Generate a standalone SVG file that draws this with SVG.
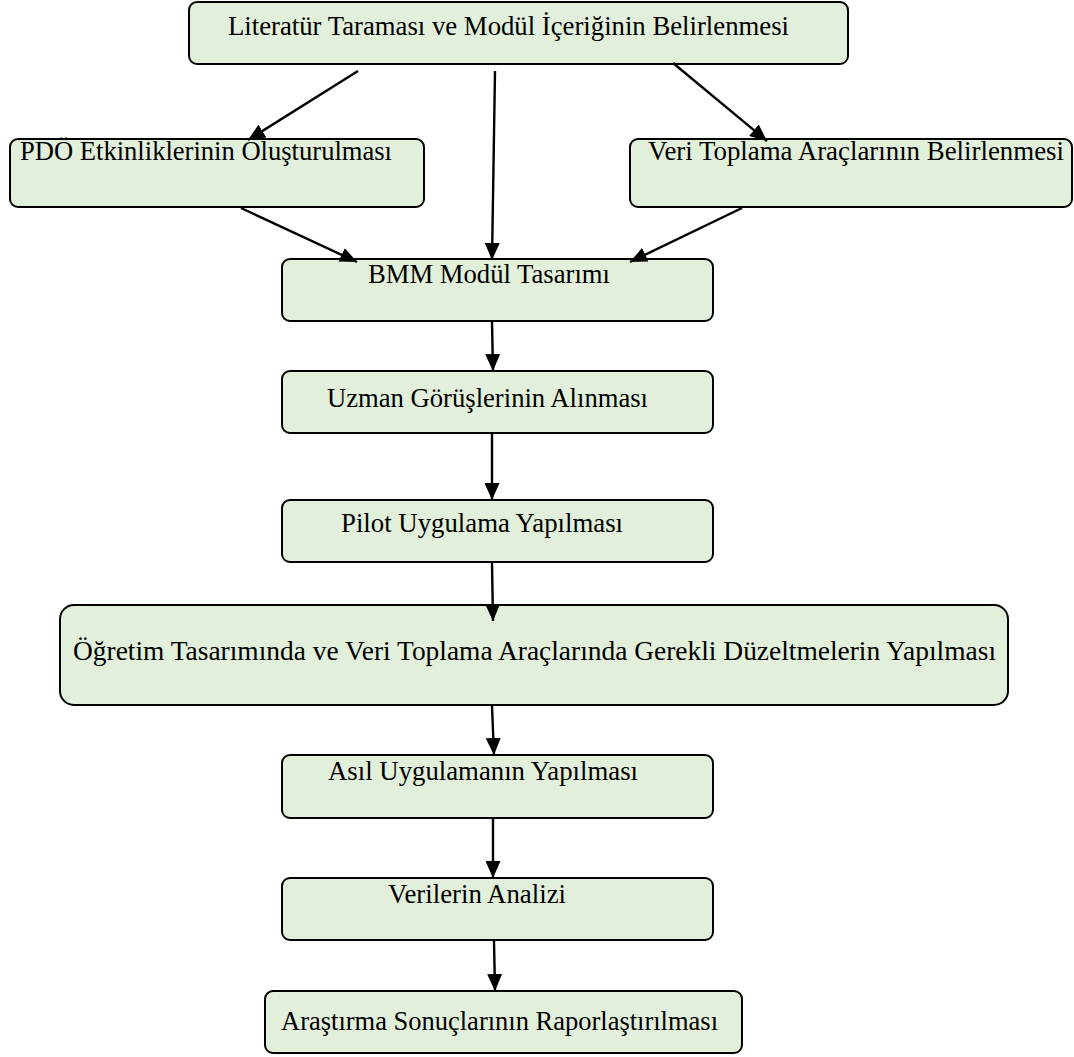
<svg xmlns="http://www.w3.org/2000/svg" width="1074" height="1057" viewBox="0 0 1074 1057">
<defs>
<marker id="ah" markerUnits="userSpaceOnUse" markerWidth="17" markerHeight="15" viewBox="0 0 17 15" refX="17" refY="7.5" orient="auto">
<path d="M0,0 L17,7.5 L0,15 Z" fill="#000"/>
</marker>
</defs>
<style>
.box{fill:#E2EFDA;stroke:#000;stroke-width:2}
.lbl{font-family:"Liberation Serif","Times New Roman",serif;font-size:27px;fill:#000}
.con{stroke:#000;stroke-width:2.4;fill:none;marker-end:url(#ah)}
</style>
<rect width="1074" height="1057" fill="#fff"/>
<g id="n-literatur">
<rect class="box" x="189" y="2" width="659" height="62" rx="8"/>
<text class="lbl" x="228" y="35" textLength="561" lengthAdjust="spacingAndGlyphs">Literatür Taraması ve Modül İçeriğinin Belirlenmesi</text>
</g>
<g id="n-pdo">
<rect class="box" x="10" y="139" width="414" height="68" rx="8"/>
<text class="lbl" x="20" y="160" textLength="372" lengthAdjust="spacingAndGlyphs">PDÖ Etkinliklerinin Oluşturulması</text>
</g>
<g id="n-veri">
<rect class="box" x="630" y="139" width="442" height="68" rx="8"/>
<text class="lbl" x="648" y="160" textLength="416" lengthAdjust="spacingAndGlyphs">Veri Toplama Araçlarının Belirlenmesi</text>
</g>
<g id="n-bmm">
<rect class="box" x="282" y="259" width="431" height="62" rx="8"/>
<text class="lbl" x="368" y="283" textLength="242" lengthAdjust="spacingAndGlyphs">BMM Modül Tasarımı</text>
</g>
<g id="n-uzman">
<rect class="box" x="282" y="371" width="431" height="62" rx="8"/>
<text class="lbl" x="327" y="407" textLength="321" lengthAdjust="spacingAndGlyphs">Uzman Görüşlerinin Alınması</text>
</g>
<g id="n-pilot">
<rect class="box" x="282" y="500" width="431" height="62" rx="8"/>
<text class="lbl" x="341" y="532" textLength="282" lengthAdjust="spacingAndGlyphs">Pilot Uygulama Yapılması</text>
</g>
<g id="n-ogretim">
<rect class="box" x="60" y="605" width="948" height="100" rx="14"/>
<text class="lbl" x="73" y="660" textLength="923" lengthAdjust="spacingAndGlyphs">Öğretim Tasarımında ve Veri Toplama Araçlarında Gerekli Düzeltmelerin Yapılması</text>
</g>
<g id="n-asil">
<rect class="box" x="282" y="755" width="431" height="63" rx="8"/>
<text class="lbl" x="328" y="780" textLength="310" lengthAdjust="spacingAndGlyphs">Asıl Uygulamanın Yapılması</text>
</g>
<g id="n-analiz">
<rect class="box" x="282" y="878" width="431" height="62" rx="8"/>
<text class="lbl" x="388" y="903" textLength="178" lengthAdjust="spacingAndGlyphs">Verilerin Analizi</text>
</g>
<g id="n-rapor">
<rect class="box" x="265" y="991" width="477" height="62" rx="8"/>
<text class="lbl" x="281" y="1030" textLength="437" lengthAdjust="spacingAndGlyphs">Araştırma Sonuçlarının Raporlaştırılması</text>
</g>
<g id="connectors">
<line class="con" x1="358" y1="71" x2="248" y2="140"/>
<line class="con" x1="495" y1="71" x2="492" y2="260"/>
<line class="con" x1="673" y1="63" x2="767" y2="141"/>
<line class="con" x1="241" y1="208" x2="357" y2="262"/>
<line class="con" x1="742" y1="208" x2="630" y2="262"/>
<line class="con" x1="492" y1="322" x2="493" y2="371"/>
<line class="con" x1="492" y1="434" x2="492" y2="500"/>
<line class="con" x1="492" y1="563" x2="493" y2="621"/>
<line class="con" x1="492" y1="706" x2="494" y2="755"/>
<line class="con" x1="493" y1="819" x2="493" y2="878"/>
<line class="con" x1="494" y1="941" x2="495" y2="991"/>
</g>
</svg>
